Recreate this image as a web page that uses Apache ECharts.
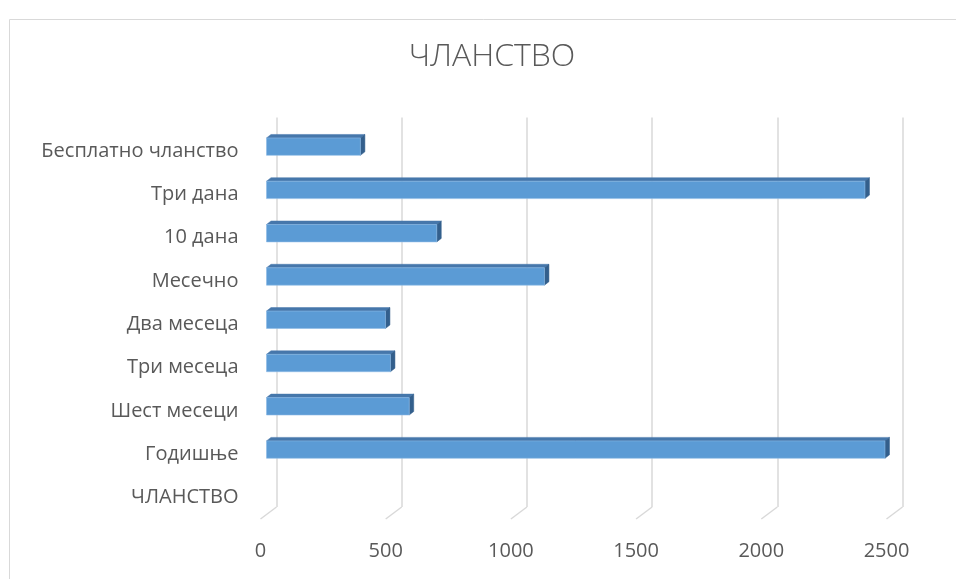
<!DOCTYPE html>
<html><head><meta charset="utf-8">
<script src="https://cdn.jsdelivr.net/npm/echarts@6/dist/echarts.min.js"></script>
<style>html,body{margin:0;padding:0;background:#fff}#c{width:956px;height:579px}</style>
</head><body><div id="c"></div>
<script>
const titleText = 'ЧЛАНСТВО';
const categories = ['Бесплатно чланство','Три дана','10 дана','Месечно','Два месеца','Три месеца','Шест месеци','Годишње','ЧЛАНСТВО'];
const values = [375, 2390, 680, 1110, 475, 495, 570, 2470, null];
const xTicks = [0, 500, 1000, 1500, 2000, 2500];

const FONT = 'Open Sans';
const chart = echarts.init(document.getElementById('c'), null, {renderer:'canvas'});

const barData = values.map((v,i)=> v==null ? null : [i, v]).filter(d=>d);

chart.setOption({
  animation:false,
  graphic:[{type:'rect', shape:{x:9.5,y:19.5,width:1000,height:700}, style:{fill:'none',stroke:'#d9d9d9',lineWidth:1}, silent:true, z:-1}],
  title:{text:titleText, left:487, top:36, textAlign:'center',
    textStyle:{fontFamily:FONT, fontWeight:300, fontSize:32, color:'#595959'}},
  grid:{left:276.5, top:117.5, width:626, height:389.5, containLabel:false},
  xAxis:{type:'value', min:0, max:2500, interval:500,
    axisLine:{show:false}, axisTick:{show:false},
    splitLine:{show:true, lineStyle:{color:'#d9d9d9', width:1.5}},
    axisLabel:{fontFamily:FONT, fontSize:20, color:'#595959', margin:34, padding:[0,32,0,0],
      formatter:(v)=> xTicks.indexOf(v)>=0 ? String(v) : ''}},
  yAxis:{type:'category', data:categories, inverse:true,
    axisLine:{show:false}, axisTick:{show:false}, splitLine:{show:false},
    axisLabel:{fontFamily:FONT, fontSize:20, color:'#595959', margin:38,
      formatter:(v)=> '{a|' + v + '}',
      rich:{a:{fontFamily:FONT, fontSize:20, color:'#595959', padding:[24,0,0,0]}}}},
  series:[
    {type:'custom', data:xTicks.map(v=>[v,0]), silent:true, z:1,
      renderItem:function(params, api){
        const p = api.coord([api.value(0), 0]);
        const cs = params.coordSys;
        const b = cs.y + cs.height;
        return {type:'line', shape:{x1:p[0], y1:b, x2:p[0]-16, y2:b+12},
          style:{stroke:'#d9d9d9', lineWidth:1.5}};
      }},
    {type:'custom', data:barData, z:5,
      renderItem:function(params, api){
        const ci = api.value(0), v = api.value(1);
        const p0 = api.coord([0, ci]);
        const p1 = api.coord([v, ci]);
        const ox = -10, oy = 7.5, h = 17.4, dx = 4.5, dy = -3.5;
        const xl = p0[0]+ox, xr = p1[0]+ox;
        const yt = p0[1]+oy-h/2, yb = p0[1]+oy+h/2;
        return {type:'group', children:[
          {type:'polygon', shape:{points:[[xl,yt],[xl+dx,yt+dy],[xr+dx,yt+dy],[xr,yt]]},
            style:{fill:'#4677ab', stroke:'#4677ab', lineWidth:0.5}},
          {type:'polygon', shape:{points:[[xr,yt],[xr+dx,yt+dy],[xr+dx,yb+dy],[xr,yb]]},
            style:{fill:'#335f8c', stroke:'#335f8c', lineWidth:0.5}},
          {type:'rect', shape:{x:xl, y:yt, width:xr-xl, height:h},
            style:{fill:'#5b9bd5', stroke:'#8dbbe6', lineWidth:0.6}}
        ]};
      }}
  ]
});
</script></body></html>
